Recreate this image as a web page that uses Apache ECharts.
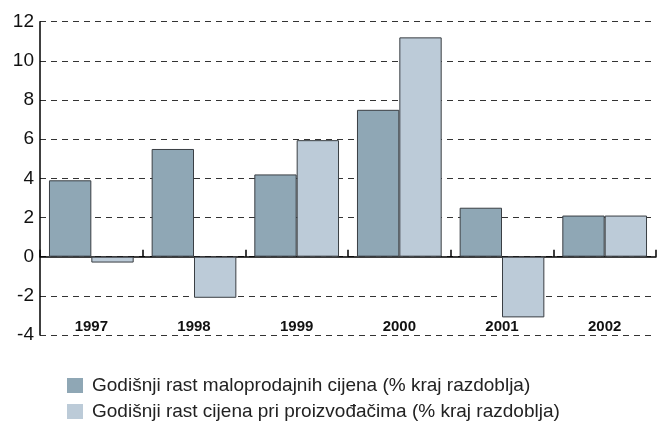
<!DOCTYPE html>
<html><head><meta charset="utf-8">
<script src="https://cdn.jsdelivr.net/npm/echarts@6/dist/echarts.min.js"></script>
<style>html,body{margin:0;padding:0;background:#fff}#c{width:659px;height:423px}</style>
</head><body><div id="c"></div>
<script>
const years = ['1997','1998','1999','2000','2001','2002'];
const retail = [3.9, 5.5, 4.2, 7.5, 2.5, 2.1];
const producer = [-0.3, -2.1, 5.95, 11.2, -3.1, 2.1];
const seriesNames = ['Godišnji rast maloprodajnih cijena (% kraj razdoblja)', 'Godišnji rast cijena pri proizvođačima (% kraj razdoblja)'];
const yTicks = {min: -4, max: 12, interval: 2};

const chart = echarts.init(document.getElementById('c'), null, {renderer: 'canvas'});
const font = '"Liberation Sans", Arial, sans-serif';
chart.setOption({
  animation: false,
  textStyle: {fontFamily: font},
  grid: {left: 40, right: 3, top: 21.7, bottom: 88, containLabel: false},
  legend: {
    orient: 'vertical', left: 67, top: 376, padding: 0, height: 60,
    itemWidth: 16, itemHeight: 15, itemGap: 7,
    icon: 'rect',
    itemStyle: {borderWidth: 0},
    textStyle: {fontSize: 19, color: '#222', fontFamily: font, padding: [0, 0, 0, 4]},
    data: seriesNames
  },
  xAxis: [{
    type: 'category', data: years,
    axisLine: {onZero: true, lineStyle: {color: '#000', width: 1.5}},
    axisTick: {show: true, inside: true, length: 7, lineStyle: {color: '#000', width: 1.5}},
    axisLabel: {show: false},
    splitLine: {show: false}
  }, {
    type: 'category', data: years, position: 'bottom',
    axisLine: {show: false, onZero: false},
    axisTick: {show: false},
    axisLabel: {show: true, inside: true, margin: 1, fontSize: 15, fontWeight: 'bold', color: '#111', fontFamily: font}
  }],
  yAxis: {
    type: 'value', min: yTicks.min, max: yTicks.max, interval: yTicks.interval,
    axisLine: {show: true, lineStyle: {color: '#000', width: 1.5}},
    axisTick: {show: false},
    axisLabel: {fontSize: 19, color: '#111', margin: 6, fontFamily: font},
    splitLine: {show: true, lineStyle: {color: '#333', type: [6, 5], width: 1}}
  },
  series: [{
    name: seriesNames[0], type: 'bar', data: retail, xAxisIndex: 0,
    barGap: '0%', barCategoryGap: '17.5%',
    itemStyle: {color: '#8fa7b5', borderColor: '#3a3f44', borderWidth: 1}
  }, {
    name: seriesNames[1], type: 'bar', data: producer, xAxisIndex: 0,
    barGap: '0%', barCategoryGap: '17.5%',
    itemStyle: {color: '#bccbd8', borderColor: '#3a3f44', borderWidth: 1}
  }]
});
</script></body></html>
